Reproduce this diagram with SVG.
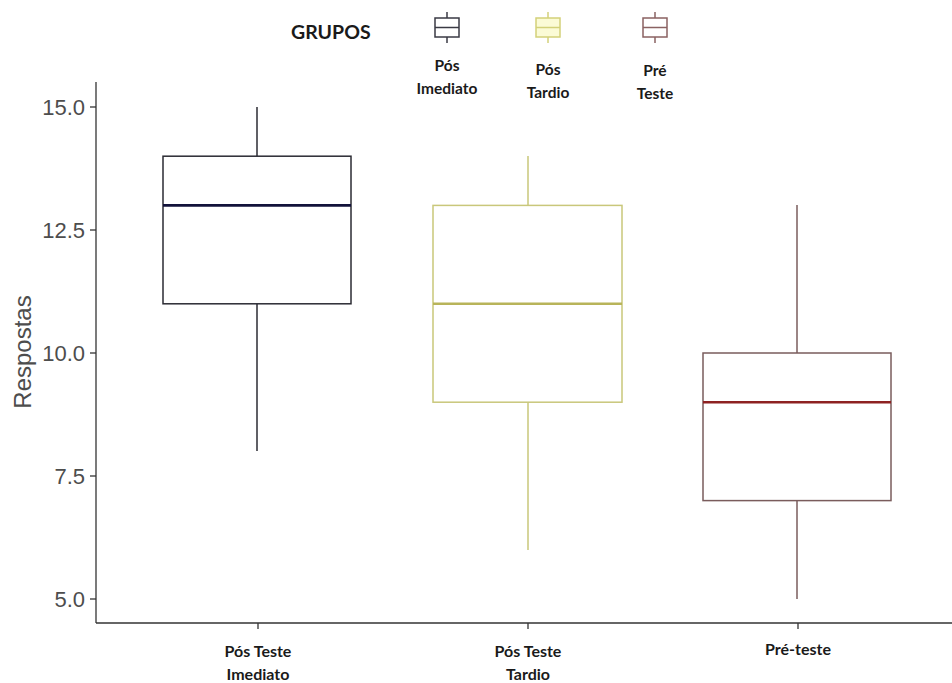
<svg xmlns="http://www.w3.org/2000/svg" width="952" height="683" viewBox="0 0 952 683">
<style>
.tick{font-family:"Liberation Sans",Arial,sans-serif;font-size:22px;fill:#4d4d4d;text-anchor:end}
.ttl{font-family:"Liberation Sans",Arial,sans-serif;font-size:24px;fill:#4d4d4d;text-anchor:middle}
.cat{font-family:Lato,"Open Sans",sans-serif;font-weight:bold;font-size:16px;fill:#1a1a1a;text-anchor:middle}
.leg{font-family:Lato,"Open Sans",sans-serif;font-weight:bold;font-size:15.5px;fill:#1a1a1a;text-anchor:middle}
.axis{stroke:#333;stroke-width:1.3;fill:none}
.b1{stroke:#2b2b33;stroke-width:1.5;fill:#fff}
.b2{stroke:#c9c77a;stroke-width:1.5;fill:#fff}
.b3{stroke:#7a5c5c;stroke-width:1.5;fill:#fff}
</style>
<rect width="952" height="683" fill="#fff"/>
<g id="axes">
<line class="axis" x1="96" y1="82" x2="96" y2="623"/>
<line class="axis" x1="96" y1="623" x2="952" y2="623"/>
<g stroke="#333" stroke-width="1.3">
<line x1="90" y1="107" x2="96" y2="107"/>
<line x1="90" y1="230" x2="96" y2="230"/>
<line x1="90" y1="353" x2="96" y2="353"/>
<line x1="90" y1="476" x2="96" y2="476"/>
<line x1="90" y1="599" x2="96" y2="599"/>
<line x1="258" y1="623" x2="258" y2="629"/>
<line x1="528" y1="623" x2="528" y2="629"/>
<line x1="798" y1="623" x2="798" y2="629"/>
</g>
<text class="tick" x="85" y="115">15.0</text>
<text class="tick" x="85" y="238">12.5</text>
<text class="tick" x="85" y="361">10.0</text>
<text class="tick" x="85" y="484">7.5</text>
<text class="tick" x="85" y="607">5.0</text>
<text class="ttl" transform="translate(31,352) rotate(-90)">Respostas</text>
<text class="cat" x="258" y="657">Pós Teste</text>
<text class="cat" x="258" y="680">Imediato</text>
<text class="cat" x="528" y="657">Pós Teste</text>
<text class="cat" x="528" y="680">Tardio</text>
<text class="cat" x="798" y="655">Pré-teste</text>
</g>
<g id="box-pos-imediato">
<line class="b1" x1="257" y1="107" x2="257" y2="156"/>
<line class="b1" x1="257" y1="304" x2="257" y2="451"/>
<rect class="b1" x="163" y="156.2" width="188" height="147.6"/>
<line x1="163" y1="205.4" x2="351" y2="205.4" stroke="#12123a" stroke-width="2.6"/>
</g>
<g id="box-pos-tardio">
<line class="b2" x1="528" y1="156" x2="528" y2="205"/>
<line class="b2" x1="528" y1="402" x2="528" y2="550"/>
<rect class="b2" x="433" y="205.4" width="189" height="196.8"/>
<line x1="433" y1="303.8" x2="622" y2="303.8" stroke="#b8b45a" stroke-width="2.6"/>
</g>
<g id="box-pre-teste">
<line class="b3" x1="797" y1="205" x2="797" y2="353"/>
<line class="b3" x1="797" y1="500.6" x2="797" y2="599"/>
<rect class="b3" x="703" y="353" width="188" height="147.6"/>
<line x1="703" y1="402.2" x2="891" y2="402.2" stroke="#8e2222" stroke-width="2.6"/>
</g>
<g id="legend">
<text x="291" y="39" font-family="Lato,'Open Sans',sans-serif" font-weight="bold" font-size="19.5" fill="#1a1a1a">GRUPOS</text>
<g id="key-pos-imediato" stroke="#3a3a44" stroke-width="1.5">
<line x1="447" y1="12" x2="447" y2="43"/>
<rect x="435" y="18" width="24" height="19" fill="#fff"/>
<line x1="435" y1="27.5" x2="459" y2="27.5"/>
</g>
<g id="key-pos-tardio" stroke="#d3d17a" stroke-width="1.5">
<line x1="548" y1="12" x2="548" y2="43"/>
<rect x="536" y="18" width="24" height="19" fill="#fbfbd6"/>
<line x1="536" y1="27.5" x2="560" y2="27.5"/>
</g>
<g id="key-pre-teste" stroke="#8a6262" stroke-width="1.5">
<line x1="655" y1="12" x2="655" y2="43"/>
<rect x="643" y="18" width="24" height="19" fill="#fff"/>
<line x1="643" y1="27.5" x2="667" y2="27.5"/>
</g>
<text class="leg" x="447" y="71">Pós</text>
<text class="leg" x="447" y="94">Imediato</text>
<text class="leg" x="548" y="75">Pós</text>
<text class="leg" x="548" y="98">Tardio</text>
<text class="leg" x="655" y="76">Pré</text>
<text class="leg" x="655" y="99">Teste</text>
</g>
</svg>
